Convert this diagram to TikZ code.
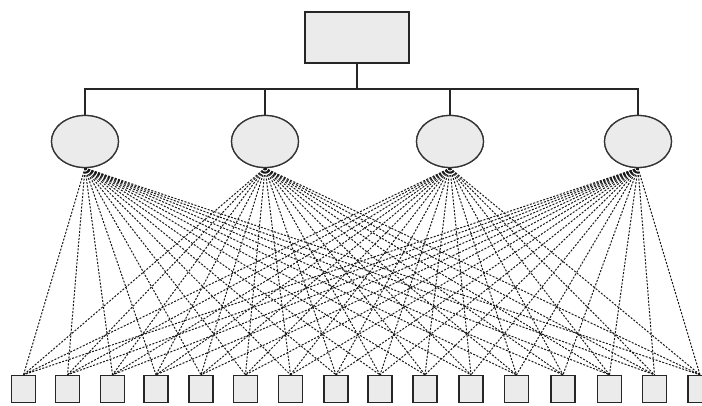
\documentclass[tikz,border=0pt]{standalone}
\usetikzlibrary{shapes.geometric}

\tikzset{
  x=1pt, y=1pt,
  shade/.style={fill=black!8},
  headbox/.style={draw=black!85, line width=1.5pt, shade, rectangle,
    minimum width=104pt, minimum height=51pt, inner sep=0pt},
  midnode/.style={draw=black!80, line width=1.3pt, shade, ellipse,
    minimum width=67pt, minimum height=52pt, inner sep=0pt},
  leafbox/.style={draw=black!85, line width=1.4pt, shade, rectangle,
    minimum width=24pt, minimum height=27pt, inner sep=0pt},
  busline/.style={draw=black!85, line width=1.6pt},
  link/.style={draw=black!90, line width=1pt, dash pattern=on 2pt off 1.5pt}
}

\begin{document}
\begin{tikzpicture}
  \useasboundingbox (0,0) rectangle (702,406);

  % root box and the bus that feeds the four groups
  \node[headbox] (root) at (357,368.5) {};
  \coordinate (bus) at (357,317);

  \foreach \i/\x in {1/85, 2/265, 3/450, 4/638} {
    \node[midnode] (g\i) at (\x,264.5) {};
  }

  % leaf row
  \foreach \j/\x in {1/23.5, 2/67.5, 3/112.5, 4/156, 5/201, 6/245.5, 7/290.5,
                     8/336, 9/380, 10/425, 11/471, 12/516.5, 13/563,
                     14/609.5, 15/654.5, 16/700} {
    \node[leafbox] (s\j) at (\x,17) {};
  }

  % every group is linked to every leaf
  \foreach \i in {1,...,4} {
    \foreach \j in {1,...,16} {
      \draw[link] (g\i.south) -- (s\j.north);
    }
  }

  % tree connectors: trunk, bus and the drop to each group
  \draw[busline] (root.south) -- (bus);
  \draw[busline] (g1.north) |- (bus) -| (g4.north);
  \draw[busline] (g2.north) -- (g2.north |- bus);
  \draw[busline] (g3.north) -- (g3.north |- bus);

  % redraw shapes above the links
  \node[headbox] at (root.center) {};
  \foreach \i in {1,...,4} { \node[midnode] at (g\i.center) {}; }
  \foreach \j in {1,...,16} { \node[leafbox] at (s\j.center) {}; }
\end{tikzpicture}
\end{document}
